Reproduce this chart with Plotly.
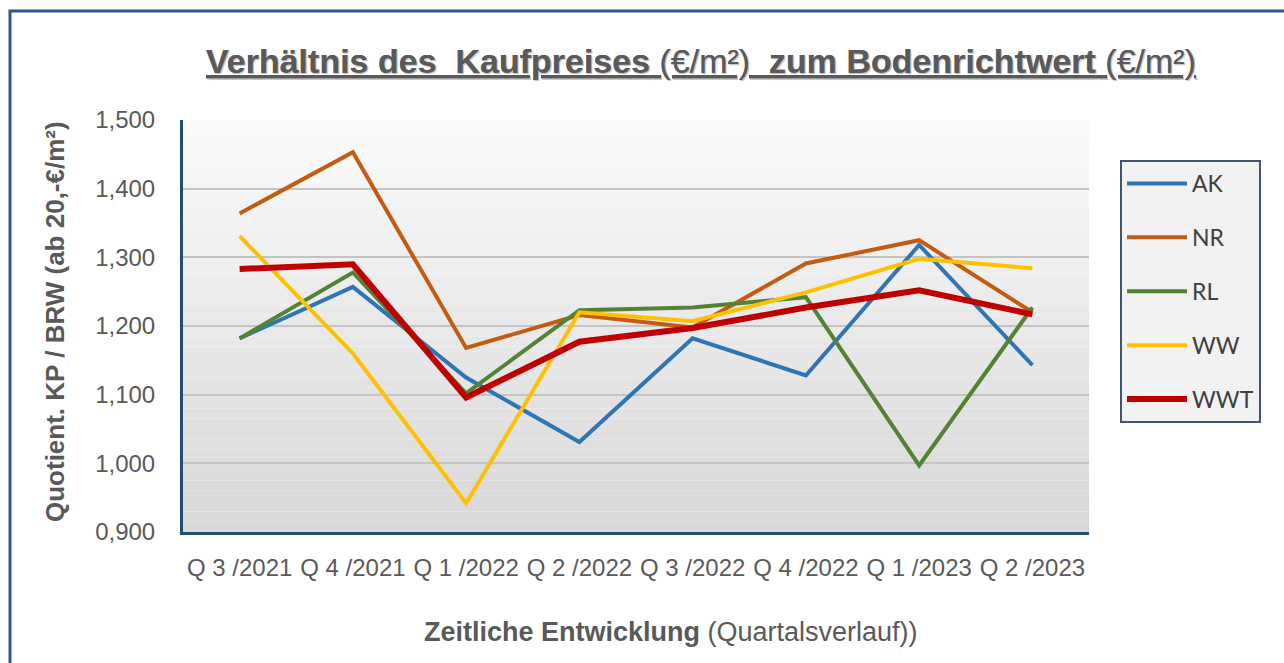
import plotly.graph_objects as go

categories = ["Q 3 /2021", "Q 4 /2021", "Q 1 /2022", "Q 2 /2022",
              "Q 3 /2022", "Q 4 /2022", "Q 1 /2023", "Q 2 /2023"]
ak = [1.182, 1.257, 1.125, 1.031, 1.182, 1.128, 1.318, 1.143]
nr = [1.364, 1.453, 1.168, 1.216, 1.198, 1.291, 1.325, 1.220]
rl = [1.182, 1.278, 1.102, 1.223, 1.227, 1.242, 0.997, 1.227]
ww = [1.331, 1.160, 0.942, 1.220, 1.207, 1.249, 1.298, 1.284]
wwt = [1.283, 1.290, 1.096, 1.177, 1.197, 1.227, 1.252, 1.217]
y_ticks = [0.9, 1.0, 1.1, 1.2, 1.3, 1.4, 1.5]

series = [("AK", ak, "#2e75b6", 4), ("NR", nr, "#c55a11", 4),
          ("RL", rl, "#548235", 4), ("WW", ww, "#ffc000", 4),
          ("WWT", wwt, "#c00000", 6)]

W, H = 1284, 663
L, R, T, B = 183, 1089, 120, 532
pw, ph = R - L, B - T

def px(x):
    return (x - L) / pw

def py(y):
    return (B - y) / ph

fig = go.Figure()
for name, vals, col, w in series:
    fig.add_trace(go.Scatter(x=categories, y=vals, name=name, mode="lines",
                             line=dict(color=col, width=w), legendgroup=name))

shapes = []
# gradient background for plot area
n = 40
for i in range(n):
    t = i / (n - 1)
    g = int(round(250 - t * (250 - 216)))
    shapes.append(dict(type="rect", xref="paper", yref="paper",
                       x0=0, x1=1, y0=1 - (i + 1) / n, y1=1 - i / n,
                       fillcolor=f"rgb({g},{g},{g})", line=dict(width=0),
                       layer="below"))
# outer frame
shapes.append(dict(type="rect", xref="paper", yref="paper",
                   x0=px(10), x1=px(1300), y0=py(680), y1=py(11),
                   line=dict(color="#2f5597", width=3), fillcolor="rgba(0,0,0,0)",
                   layer="above"))

title_txt = ("<u><b>Verhältnis des  Kaufpreises</b> (€/m²)  "
             "<b>zum Bodenrichtwert</b> (€/m²)</u>")

annotations = [
    dict(text=title_txt, xref="paper", yref="paper", x=px(701), y=py(61),
         xanchor="center", yanchor="middle", showarrow=False,
         font=dict(family="Liberation Sans, Arial", size=34,
                   color="#595959", shadow="1px 1px 1px #c8c8c8")),
    dict(text="<b>Quotient. KP / BRW (ab 20,-€/m²)</b>", xref="paper", yref="paper",
         x=px(55), y=py(322), textangle=-90, xanchor="center", yanchor="middle",
         showarrow=False,
         font=dict(family="Liberation Sans, Arial", size=26, color="#595959")),
    dict(text="<b>Zeitliche Entwicklung</b> (Quartalsverlauf))", xref="paper",
         yref="paper", x=px(671), y=py(632), xanchor="center", yanchor="middle",
         showarrow=False,
         font=dict(family="Liberation Sans, Arial", size=27, color="#595959")),
]

fig.update_layout(
    width=W, height=H,
    margin=dict(l=L, r=W - R, t=T, b=H - B, autoexpand=False),
    paper_bgcolor="white", plot_bgcolor="rgba(0,0,0,0)",
    separators=",.",
    shapes=shapes, annotations=annotations,
    showlegend=True,
    legend=dict(x=px(1120), y=py(160), xanchor="left", yanchor="top",
                bgcolor="#f2f2f2", bordercolor="#44546a", borderwidth=2,
                font=dict(family="Lato, Open Sans, sans-serif", size=23, color="#404040"),
                tracegroupgap=21, itemwidth=60, entrywidth=95),
    xaxis=dict(type="category", range=[-0.5, 7.5], showgrid=False, showline=True,
               linecolor="#1f4e79", linewidth=3, ticks="",
               tickfont=dict(family="Liberation Sans, Arial", size=24, color="#595959"),
               ticklabelstandoff=12, zeroline=False),
    yaxis=dict(range=[0.9, 1.5], tickvals=y_ticks, tickformat=".3f", showgrid=True,
               gridcolor="#c4c4c4", gridwidth=2, showline=True, linecolor="#1f4e79",
               linewidth=3, ticks="", zeroline=False,
               tickfont=dict(family="Liberation Sans, Arial", size=24, color="#595959"),
               ticklabelstandoff=20),
)

fig.write_html("out.html", config={"displayModeBar": False},
               post_script="document.body.style.margin='0';document.body.style.overflow='hidden';")
